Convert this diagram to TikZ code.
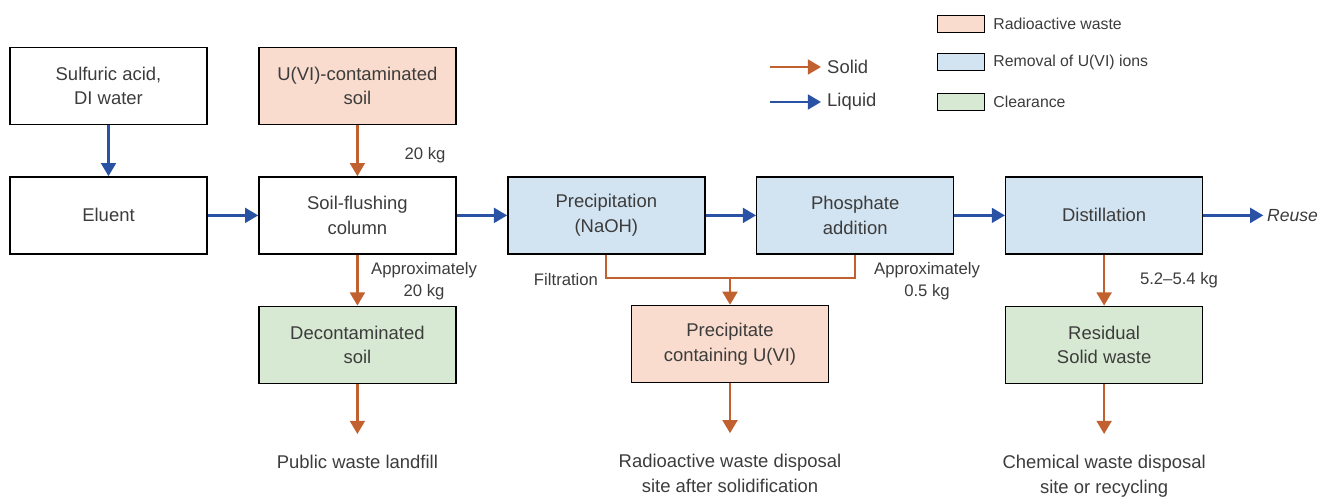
\documentclass[tikz,border=0pt]{standalone}
\usepackage{fontspec}
\setmainfont{Liberation Sans}
\usetikzlibrary{positioning,arrows.meta}
\definecolor{radio}{HTML}{F9DCCD}
\definecolor{remov}{HTML}{D2E3F1}
\definecolor{clear}{HTML}{D7E9D3}
\definecolor{solidc}{HTML}{C1612F}
\definecolor{liquidc}{HTML}{2A52A4}
\definecolor{txt}{HTML}{3C3C3C}

\begin{document}
\begin{tikzpicture}[node distance=1.02cm and 1.01cm, font=\fontsize{10.5}{14}\selectfont, text=txt,
    box/.style={draw=black, line width=0.8pt, minimum width=3.94cm,
                minimum height=1.54cm, align=center, inner sep=2pt},
    lbl/.style={font=\fontsize{9.5}{12.5}\selectfont, align=center},
    key/.style={draw=black, line width=0.8pt, minimum width=0.94cm,
                minimum height=0.34cm, inner sep=0pt},
    flow/.style={line width=1.3pt, -{Triangle[length=7.5pt,width=8.5pt]}},
    solidflow/.style={flow, draw=solidc},
    liquidflow/.style={flow, draw=liquidc}]

  \useasboundingbox (0,0) rectangle (26.38,9.94);

  % process boxes
  \node[box]              (acid) at (2.17,8.22)  {Sulfuric acid,\\DI water};
  \node[box,fill=radio]   (soil) [right=of acid] {U(VI)-contaminated\\soil};
  \node[box]              (elu)  [below=of acid] {Eluent};
  \node[box]              (col)  [right=of elu]  {Soil-flushing\\column};
  \node[box,fill=remov]   (pre)  [right=of col]  {Precipitation\\(NaOH)};
  \node[box,fill=remov]   (pho)  [right=of pre]  {Phosphate\\addition};
  \node[box,fill=remov]   (dist) [right=of pho]  {Distillation};
  \node[box,fill=clear]   (dec)  [below=of col]  {Decontaminated\\soil};
  \node[box,fill=radio]   (ppt)  at (14.6,3.06)  {Precipitate\\containing U(VI)};
  \node[box,fill=clear]   (res)  [below=of dist] {Residual\\Solid waste};

  % end points
  \node[font=\fontsize{10}{13}\itshape, inner sep=2pt] (reuse) [right=1.2cm of dist] {Reuse};
  \node[inner sep=0pt, align=center] (land) [below=1.42cm of dec] {Public waste landfill};
  \node[inner sep=0pt, align=center] (rad)  [below=1.42cm of ppt] {Radioactive waste disposal\\site after solidification};
  \node[inner sep=0pt, align=center] (chem) [below=1.42cm of res] {Chemical waste disposal\\site or recycling};

  % labels
  \node[lbl] (m1) at (8.50,6.84) {20 kg};
  \node[lbl] (m2) at (8.48,4.32) {Approximately\\20 kg};
  \node[lbl] (m3) at (11.32,4.34) {Filtration};
  \node[lbl] (m4) at (18.54,4.32) {Approximately\\0.5 kg};
  \node[lbl] (m5) at (23.58,4.34) {5.2--5.4 kg};

  % flows
  \path (acid) edge[liquidflow] (elu)
        (elu)  edge[liquidflow] (col)
        (col)  edge[liquidflow] (pre)
        (pre)  edge[liquidflow] (pho)
        (pho)  edge[liquidflow] (dist)
        (dist) edge[liquidflow] (reuse)
        (soil) edge[solidflow]  (col)
        (col)  edge[solidflow]  (dec)
        (dist) edge[solidflow]  (res);

  \coordinate (join) at ([yshift=0.54cm]ppt.north);
  \draw[solidc, line width=1.3pt] (pre.south) |- (join) -| (pho.south);
  \draw[solidflow] (join) -- (ppt);

  \draw[solidflow, shorten >=0.42cm] (dec) -- (land);
  \draw[solidflow, shorten >=0.42cm] (ppt) -- (rad);
  \draw[solidflow, shorten >=0.42cm] (res) -- (chem);

  % legend
  \coordinate (s0) at (15.40,8.60);
  \coordinate (l0) at (15.40,7.90);
  \node[anchor=west] (ksol) at (16.42,8.60) {Solid};
  \node[anchor=west] (kliq) at (16.42,7.90) {Liquid};
  \draw[solidflow]  (s0) -- (ksol);
  \draw[liquidflow] (l0) -- (kliq);

  \node[key,fill=radio] (k1) at (19.22,9.46) {};
  \node[key,fill=remov] (k2) at (19.22,8.70) {};
  \node[key,fill=clear] (k3) at (19.22,7.90) {};
  \node[lbl, font=\fontsize{9}{12}\selectfont] (t1) [right=0.04cm of k1] {Radioactive waste};
  \node[lbl, font=\fontsize{9}{12}\selectfont] (t2) [right=0.04cm of k2] {Removal of U(VI) ions};
  \node[lbl, font=\fontsize{9}{12}\selectfont] (t3) [right=0.04cm of k3] {Clearance};
\end{tikzpicture}
\end{document}
